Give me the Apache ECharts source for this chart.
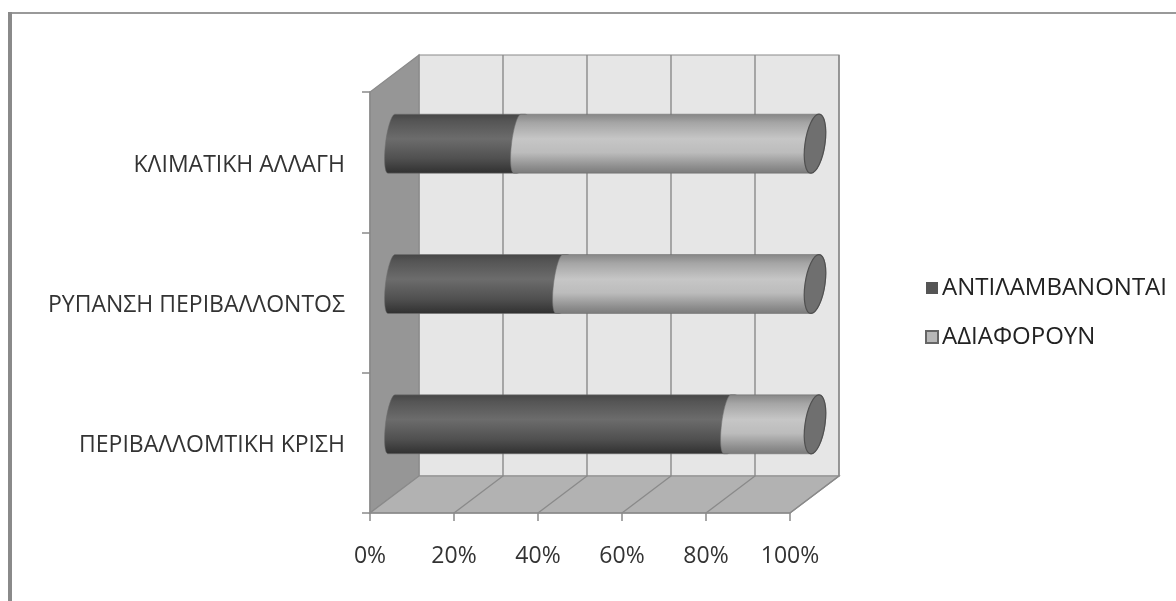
<!DOCTYPE html>
<html><head><meta charset="utf-8">
<style>html,body{margin:0;padding:0;background:#fff;overflow:hidden}
#chart{width:1176px;height:601px;filter:blur(0.65px)}</style>
<script src="https://cdn.jsdelivr.net/npm/echarts@6/dist/echarts.min.js"></script>
</head><body><div id="chart"></div>
<script>
const categories = ['ΠΕΡΙΒΑΛΛΟΜΤΙΚΗ ΚΡΙΣΗ', 'ΡΥΠΑΝΣΗ ΠΕΡΙΒΑΛΛΟΝΤΟΣ', 'ΚΛΙΜΑΤΙΚΗ ΑΛΛΑΓΗ'];
const perceive = [80, 40, 30];
const indifferent = [20, 60, 70];
const seriesNames = ['ΑΝΤΙΛΑΜΒΑΝΟΝΤΑΙ', 'ΑΔΙΑΦΟΡΟΥΝ'];
const xTicks = [0, 20, 40, 60, 80, 100];

const DX = 49, DY = -37, FONT = 'Open Sans', K = 0.5523;
const grad = stops => ({type:'linear',x:0,y:0,x2:0,y2:1,colorStops:stops.map(s=>({offset:s[0],color:s[1]}))});
const darkFill = grad([[0,'#454545'],[0.12,'#555'],[0.42,'#6c6c6c'],[0.75,'#505050'],[1,'#303030']]);
const lightFill = grad([[0,'#858585'],[0.15,'#a5a5a5'],[0.42,'#c6c6c6'],[0.65,'#bcbcbc'],[0.88,'#8f8f8f'],[1,'#7a7a7a']]);

function renderWalls(params, api) {
  const c0 = api.coord([0, 0]), c1 = api.coord([100, 0]);
  const band = api.size([0, 1])[1];
  const b0 = [c0[0], c0[1] + band / 2], b1 = [c1[0], c1[1] + band / 2];
  const topY = b0[1] - band * categories.length;
  const off = p => [p[0] + DX, p[1] + DY];
  const poly = (pts, fill) => ({type:'polygon', shape:{points:pts}, style:{fill, stroke:'#8a8a8a', lineWidth:1.2}});
  const top = [b0[0], topY];
  const kids = [
    poly([off(b0), off(b1), off([b1[0], topY]), off(top)], '#e6e6e6'),
    poly([b0, off(b0), off(top), top], '#969696'),
    poly([b0, b1, off(b1), off(b0)], '#b2b2b2')
  ];
  xTicks.slice(1).forEach(v => {
    const p = [api.coord([v, 0])[0], b0[1]], q = off(p);
    kids.push({type:'polyline', shape:{points:[p, q, [q[0], off(top)[1]]]}, style:{fill:'none', stroke:'#8a8a8a', lineWidth:1.4}});
  });
  return {type:'group', children:kids};
}
function half(cx, cy, rx, ry, t, sign, reverse) {
  const P = (u, v) => (cx + sign*rx*u - t*v).toFixed(2) + ' ' + (cy + ry*v).toFixed(2);
  if (!reverse) return `C${P(K,1)} ${P(1,K)} ${P(1,0)} C${P(1,-K)} ${P(K,-1)} ${P(0,-1)}`;
  return `C${P(K,-1)} ${P(1,-K)} ${P(1,0)} C${P(1,K)} ${P(K,1)} ${P(0,1)}`;
}
function cylinder(api, fill, withCap) {
  const a = api.coord([api.value(0), api.value(2)]);
  const b = api.coord([api.value(1), api.value(2)]);
  const band = api.size([0, 1])[1];
  const ry = band * 0.21, rxL = 6, tL = 3.5, rxR = 10, tR = 4;
  const cy = a[1] + DY / 2, x0 = a[0] + DX / 2 - 3, x1 = b[0] + DX / 2 + 0.5;
  const d = `M${x0 + tL} ${cy - ry} L${x1 + tR} ${cy - ry} ` + half(x1, cy, rxR, ry, tR, 1, true) +
            ` L${x0 - tL} ${cy + ry} ` + half(x0, cy, rxL, ry, tL, -1, false) + ' Z';
  const kids = [{type:'path', shape:{pathData:d, layout:'none'}, style:{fill, stroke:'rgba(110,110,110,0.7)', lineWidth:0.8}}];
  if (withCap) {
    const c = `M${x1 - tR} ${cy + ry} ` + half(x1, cy, rxR, ry, tR, -1, false) + ' ' + half(x1, cy, rxR, ry, tR, 1, true) + ' Z';
    kids.push({type:'path', shape:{pathData:c, layout:'none'}, style:{fill:'#6f6f6f', stroke:'#505050', lineWidth:1.2}});
  }
  return {type:'group', children:kids};
}
const chart = echarts.init(document.getElementById('chart'));
chart.setOption({
  animation:false,
  backgroundColor:'#fff',
  graphic:[
    {type:'rect', shape:{x:8,y:12,width:1168,height:2}, style:{fill:'#999'}},
    {type:'rect', shape:{x:8,y:12,width:4,height:589}, style:{fill:'#8a8a8a'}}
  ],
  grid:{left:370, top:92, width:420, height:421},
  legend:{
    data:seriesNames, orient:'vertical', left:920, top:271, itemWidth:12, itemHeight:12, itemGap:25, icon:'rect',
    textStyle:{fontFamily:FONT, fontSize:24, color:'#222', padding:[0,0,0,-1]}, selectedMode:false
  },
  xAxis:{
    type:'value', min:0, max:100, interval:20,
    axisLabel:{formatter:'{value}%', fontFamily:FONT, fontSize:23, color:'#333', margin:32},
    axisLine:{show:true, lineStyle:{color:'#8a8a8a', width:1.5}},
    axisTick:{show:true, length:8, lineStyle:{color:'#8a8a8a', width:1.5}},
    splitLine:{show:false}, z:5
  },
  yAxis:{
    type:'category', data:categories,
    axisLabel:{fontFamily:FONT, fontSize:23, color:'#333', margin:25, verticalAlign:'top', lineHeight:6},
    axisLine:{show:true, lineStyle:{color:'#8a8a8a', width:1.5}},
    axisTick:{show:true, length:8, lineStyle:{color:'#8a8a8a', width:1.5}},
    splitLine:{show:false}, z:5
  },
  series:[
    {type:'custom', name:'walls', z:1, silent:true, clip:false, renderItem:renderWalls, data:[[0,0]], encode:{x:0,y:1}},
    {type:'custom', name:seriesNames[0], z:3, silent:true, clip:false, itemStyle:{color:'#555'},
     renderItem:(p,api)=>cylinder(api, darkFill, false), encode:{x:[0,1],y:2},
     data:perceive.map((v,i)=>[0,v,i])},
    {type:'custom', name:seriesNames[1], z:4, silent:true, clip:false, itemStyle:{color:'#b8b8b8', borderColor:'#666', borderWidth:1},
     renderItem:(p,api)=>cylinder(api, lightFill, true), encode:{x:[0,1],y:2},
     data:indifferent.map((v,i)=>[perceive[i],perceive[i]+v,i])}
  ]
});
</script></body></html>
